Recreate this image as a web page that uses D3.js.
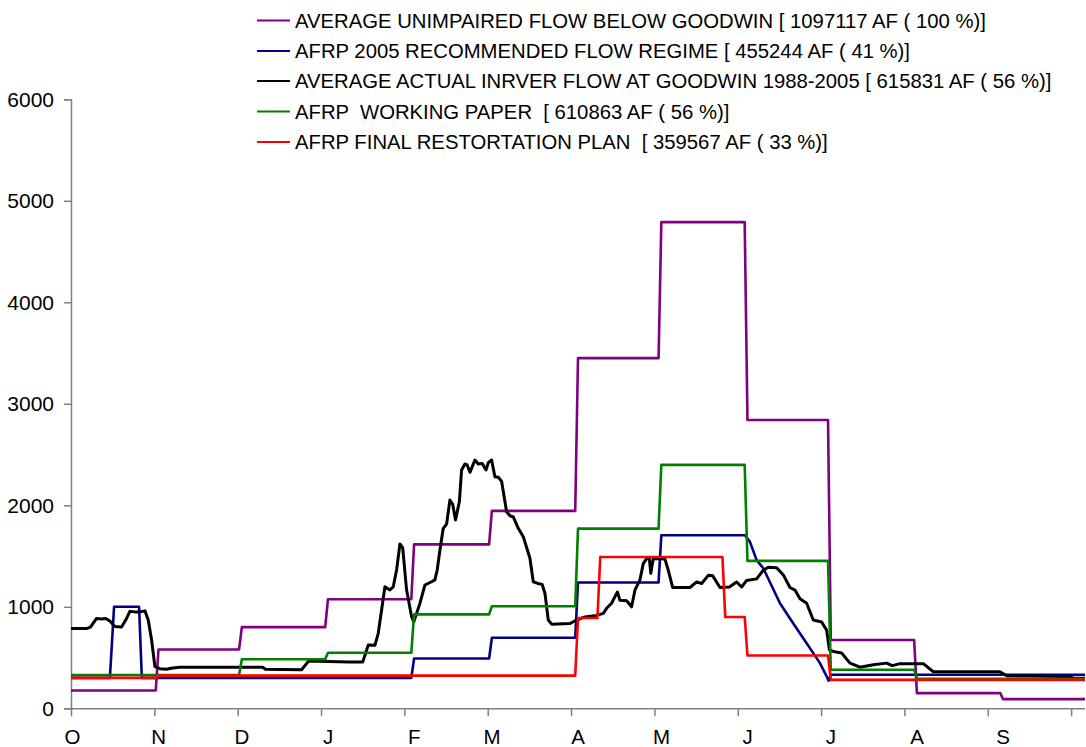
<!DOCTYPE html>
<html><head><meta charset="utf-8">
<script src="https://cdn.jsdelivr.net/npm/d3@7"></script>
<style>
html,body{margin:0;padding:0;background:#fff;}
svg{display:block;font-family:Arial,"Liberation Sans",sans-serif;}
</style></head>
<body>
<svg id="chart" width="1086" height="747"></svg>
<script>
// ---- data (days counted from Oct 1; values in cfs) ----
const monthLabels = ["O","N","D","J","F","M","A","M","J","J","A","S"];
const monthStarts = [0,31,61,92,123,151,182,212,243,273,304,335];
const yTicks = [0,1000,2000,3000,4000,5000,6000];

const seriesNames = [
  "AVERAGE UNIMPAIRED FLOW BELOW GOODWIN [ 1097117 AF ( 100 %)]",
  "AFRP 2005 RECOMMENDED FLOW REGIME [ 455244 AF ( 41 %)]",
  "AVERAGE ACTUAL INRVER FLOW AT GOODWIN 1988-2005 [ 615831 AF ( 56 %)]",
  "AFRP  WORKING PAPER  [ 610863 AF ( 56 %)]",
  "AFRP FINAL RESTORTATION PLAN  [ 359567 AF ( 33 %)]"
];
const seriesColors = ["#800080","#000080","#000000","#008000","#ff0000"];

// step series: [dayOfChange, value]
const unimpairedSteps = [[0,175],[31,580],[61,800],[92,1075],[123,1615],[151,1945],[182,3450],[212,4790],[243,2840],[273,673],[304,150],[335,90]];
const workingPaperSteps = [[0,328],[61,483],[92,548],[123,925],[151,1005],[182,1770],[212,2398],[243,1452],[273,380],[304,290]];
const finalPlanSteps = [[0,300],[31,322],[182,890],[190,1490],[235,900],[243,520],[273,280]];

// AFRP 2005 recommended (day, value)
const recommended = [[0,300],[14,300],[15.5,1000],[24.5,1000],[25.5,300],[122.5,300],[123.5,490],[150.5,490],[151.5,695],[181.5,695],[182.5,1240],[211.5,1240],[212.5,1705],[242.6,1705],[244.4,1640],[246.8,1460],[249.2,1380],[255.2,1035],[260,835],[264.8,640],[269.6,445],[272,315],[272.7,272],[273.5,330],[365,330]];

// Average actual flow (day, value)
const actual = [[0,785],[5.6,785],[7,800],[9.2,885],[11,880],[12.5,885],[14,860],[15.8,805],[18.2,800],[20,885],[21.2,955],[23,950],[24.8,950],[26.6,960],[27.8,870],[29,675],[30.2,410],[32,390],[34.4,385],[36,395],[39,405],[69,405],[70,385],[83,380],[85.5,465],[100,455],[105,455],[107,624],[109.4,620],[110.6,739],[111.8,968],[113,1198],[114.8,1165],[116,1198],[117.2,1362],[118.4,1619],[119.4,1580],[120.8,1165],[122.6,902],[123.4,852],[125.6,1034],[127.4,1215],[129.8,1247],[131,1265],[131.8,1360],[132.8,1559],[134,1773],[135.2,1815],[136.4,2052],[137.4,2010],[138.4,1855],[139.8,2036],[140.6,2348],[141.8,2407],[142.6,2398],[143.6,2325],[145.4,2446],[146.6,2407],[148,2413],[149.4,2348],[150.2,2420],[151.4,2446],[152.6,2282],[153.8,2276],[155,2237],[156.8,1937],[158,1897],[159.2,1885],[161,1773],[162.8,1691],[165.2,1478],[166.4,1247],[168,1230],[169.6,1221],[170.6,1133],[171.8,870],[173,829],[179.6,835],[182,870],[185,900],[189.2,915],[191.6,935],[192.8,985],[194.6,1035],[195.8,1100],[196.7,1145],[197.6,1065],[200,1060],[201.8,1000],[203,1165],[204.8,1265],[206,1425],[207.2,1475],[208.2,1470],[208.7,1330],[209.6,1475],[213.8,1470],[215,1360],[216.6,1190],[222.8,1190],[225.2,1245],[227,1230],[229.4,1310],[231,1305],[233.6,1190],[237,1195],[239.6,1245],[241.4,1195],[243.2,1260],[246.8,1275],[249.2,1360],[251,1390],[254,1385],[256.5,1310],[258.8,1190],[260.6,1165],[262.4,1080],[264.8,1035],[267.2,870],[270.2,850],[272,770],[273,575],[274.4,560],[277.4,545],[280.4,445],[284,405],[288.8,430],[293.6,445],[295.6,420],[298.4,440],[306.8,440],[310.4,360],[334.4,360],[336.8,320],[346.3,318],[359.6,312],[361,295],[365,295]];

// ---- build ----
function expandSteps(steps, endDay){
  const pts = [];
  steps.forEach((s,i)=>{
    if(i===0){ pts.push([s[0], s[1]]); }
    else { pts.push([s[0]-0.5, steps[i-1][1]]); pts.push([s[0]+0.5, s[1]]); }
  });
  pts.push([endDay, steps[steps.length-1][1]]);
  return pts;
}

const svg = d3.select("#chart");
const x = d3.scaleLinear().domain([0,365]).range([71,1085]);
const y = d3.scaleLinear().domain([0,6000]).range([708.3,99.3]);
const axisColor = "#808080";

// y axis
const yAxis = d3.axisLeft(y).tickValues(yTicks).tickSize(7).tickPadding(10).tickFormat(d3.format("d"));
const gy = svg.append("g").attr("transform","translate(71,0)").call(yAxis);
gy.select(".domain").attr("stroke",axisColor).attr("stroke-width",1.5);
gy.selectAll(".tick line").attr("stroke",axisColor).attr("stroke-width",1.5);
gy.selectAll(".tick text").attr("font-size",21).attr("fill","#000").attr("font-family","Arial, 'Liberation Sans', sans-serif");

// x axis: ticks every 30 days, labels at month starts
const xAxis = d3.axisBottom(x).tickValues(d3.range(0,361,30)).tickSize(8).tickFormat("");
const gx = svg.append("g").attr("transform","translate(0,708.3)").call(xAxis);
gx.select(".domain").attr("stroke",axisColor).attr("stroke-width",1.5).attr("d","M71,0.5H1085");
gx.selectAll(".tick line").attr("stroke",axisColor).attr("stroke-width",1.5);
svg.append("g").selectAll("text").data(monthLabels).join("text")
  .attr("x",(d,i)=>x(monthStarts[i])+1.5)
  .attr("y",744)
  .attr("text-anchor","middle")
  .attr("font-size",20.5)
  .attr("fill","#000")
  .text(d=>d);

// series
const line = d3.line().x(d=>x(d[0])).y(d=>y(d[1]));
const seriesData = [
  expandSteps(unimpairedSteps,365),
  recommended,
  actual,
  expandSteps(workingPaperSteps,365),
  expandSteps(finalPlanSteps,365)
];
svg.append("g").selectAll("path").data(seriesData).join("path")
  .attr("d",line)
  .attr("fill","none")
  .attr("stroke",(d,i)=>seriesColors[i])
  .attr("stroke-width",(d,i)=>i===2?3:2.6)
  .attr("stroke-linejoin","round");

// legend
const legendRows = [20.5,51,81,111.5,142];
const lg = svg.append("g").selectAll("g").data(seriesNames).join("g")
  .attr("transform",(d,i)=>`translate(0,${legendRows[i]})`);
lg.append("line").attr("x1",257).attr("x2",290).attr("y1",0).attr("y2",0)
  .attr("stroke",(d,i)=>seriesColors[i]).attr("stroke-width",2.2);
lg.append("text").attr("x",295).attr("y",7.2).attr("font-size",20.3).attr("fill","#000")
  .attr("xml:space","preserve").style("white-space","pre").text(d=>d);
</script>
</body></html>
